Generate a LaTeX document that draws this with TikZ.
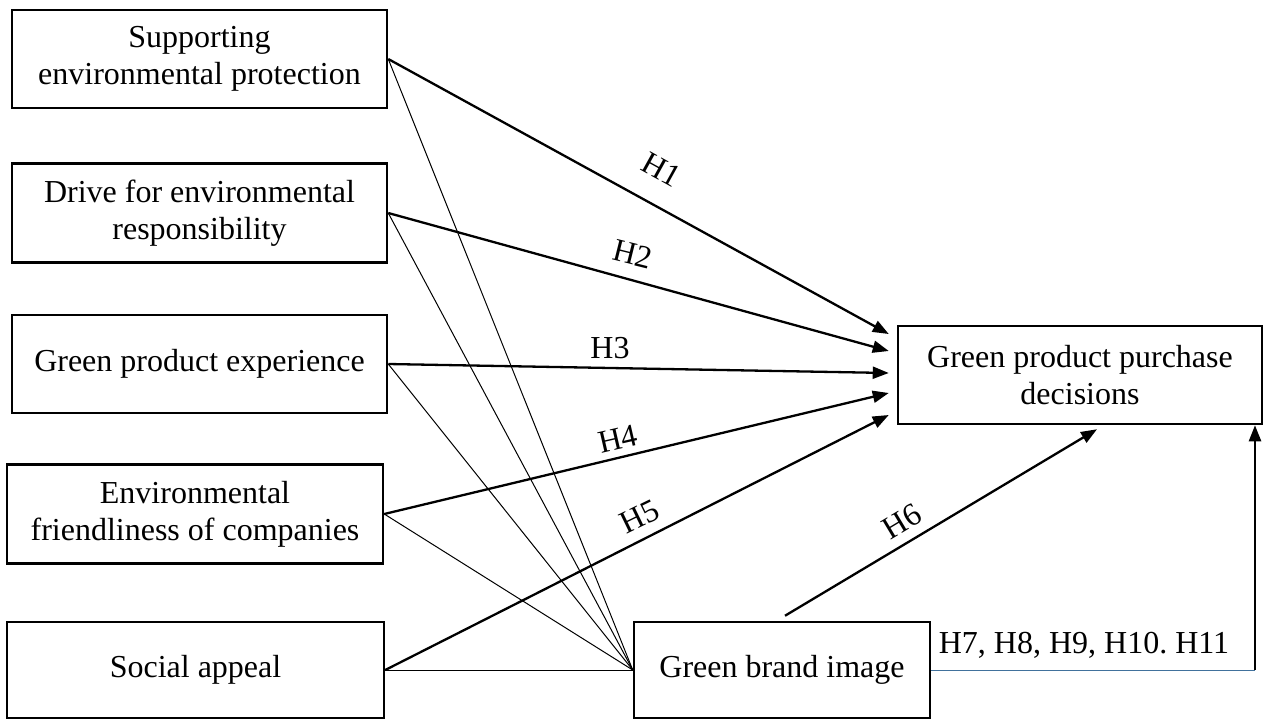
\documentclass[tikz,border=0pt]{standalone}
\usepackage{fontspec}
\setmainfont{Liberation Serif}
\usetikzlibrary{arrows.meta}
\definecolor{linkblue}{RGB}{65,113,156}
\frenchspacing
\begin{document}
\begin{tikzpicture}[x=1pt,y=-1pt]
\tikzset{
  box/.style={draw, line width=2.5pt, align=center, font=\fontsize{32}{37}\selectfont, inner sep=0pt},
  hyparrow/.style={line width=2.3pt, -{Triangle[length=16pt,width=12pt]}},
  thinlink/.style={line width=1pt},
  hlabel/.style={font=\fontsize{32}{37}\selectfont, inner sep=0pt}
}
\useasboundingbox (0,0) rectangle (1265,720);

% left boxes
\node[box, minimum width=375pt, minimum height=98pt] (b1) at (199.5,59) {Supporting\\environmental protection};
\node[box, minimum width=375pt, minimum height=99pt] (b2) at (199.5,213) {Drive for environmental\\responsibility};
\node[box, minimum width=375pt, minimum height=98pt] (b3) at (199.5,364) {Green product experience};
\node[box, minimum width=376pt, minimum height=99pt] (b4) at (195,514) {Environmental\\friendliness of companies};
\node[box, minimum width=377pt, minimum height=96pt] (b5) at (195.5,670) {Social appeal};

% right boxes
\node[box, minimum width=296pt, minimum height=96pt] (gbi) at (782,670) {Green brand image};
\node[box, minimum width=364pt, minimum height=98pt] (gp) at (1080,375) {Green product purchase\\decisions};

% arrow end points
\coordinate (t1) at ([xshift=-8pt,yshift=41pt]gp.west);
\coordinate (t2) at ([xshift=-8pt,yshift=24pt]gp.west);
\coordinate (t3) at ([xshift=-8pt,yshift=2pt]gp.west);
\coordinate (t4) at ([xshift=-8pt,yshift=-18pt]gp.west);
\coordinate (t5) at ([xshift=-8pt,yshift=-40pt]gp.west);
\coordinate (s6) at ([yshift=5pt,xshift=3pt]gbi.north);
\coordinate (t6) at ([xshift=17pt,yshift=-4pt]gp.south);
\coordinate (corner) at (1255,670);

% thin links to green brand image
\draw[thinlink] (b1.east) -- (gbi.west);
\draw[thinlink] (b2.east) -- (gbi.west);
\draw[thinlink] (b3.east) -- (gbi.west);
\draw[thinlink] (b4.east) -- (gbi.west);
\draw[thinlink] (b5.east) -- (gbi.west);

% hypothesis arrows
\draw[hyparrow] (b1.east) -- (t1);
\draw[hyparrow] (b2.east) -- (t2);
\draw[hyparrow] (b3.east) -- (t3);
\draw[hyparrow] (b4.east) -- (t4);
\draw[hyparrow] (b5.east) -- (t5);
\draw[hyparrow] (s6) -- (t6);

% mediation path
\draw[line width=1pt, linkblue] (gbi.east) -- (corner);
\draw[hyparrow] (corner) -- (corner |- gp.south);

% labels
\node[hlabel, rotate=-29] (h1) at (662,170) {H1};
\node[hlabel, rotate=-14] (h2) at (633,254) {H2};
\node[hlabel] (h3) at (610,348) {H3};
\node[hlabel, rotate=13] (h4) at (618,439) {H4};
\node[hlabel, rotate=26] (h5) at (640,517) {H5};
\node[hlabel, rotate=31] (h6) at (902,521) {H6};
\node[hlabel, anchor=base] (h7) at (1084,653) {H7, H8, H9, H10. H11};
\end{tikzpicture}
\end{document}
